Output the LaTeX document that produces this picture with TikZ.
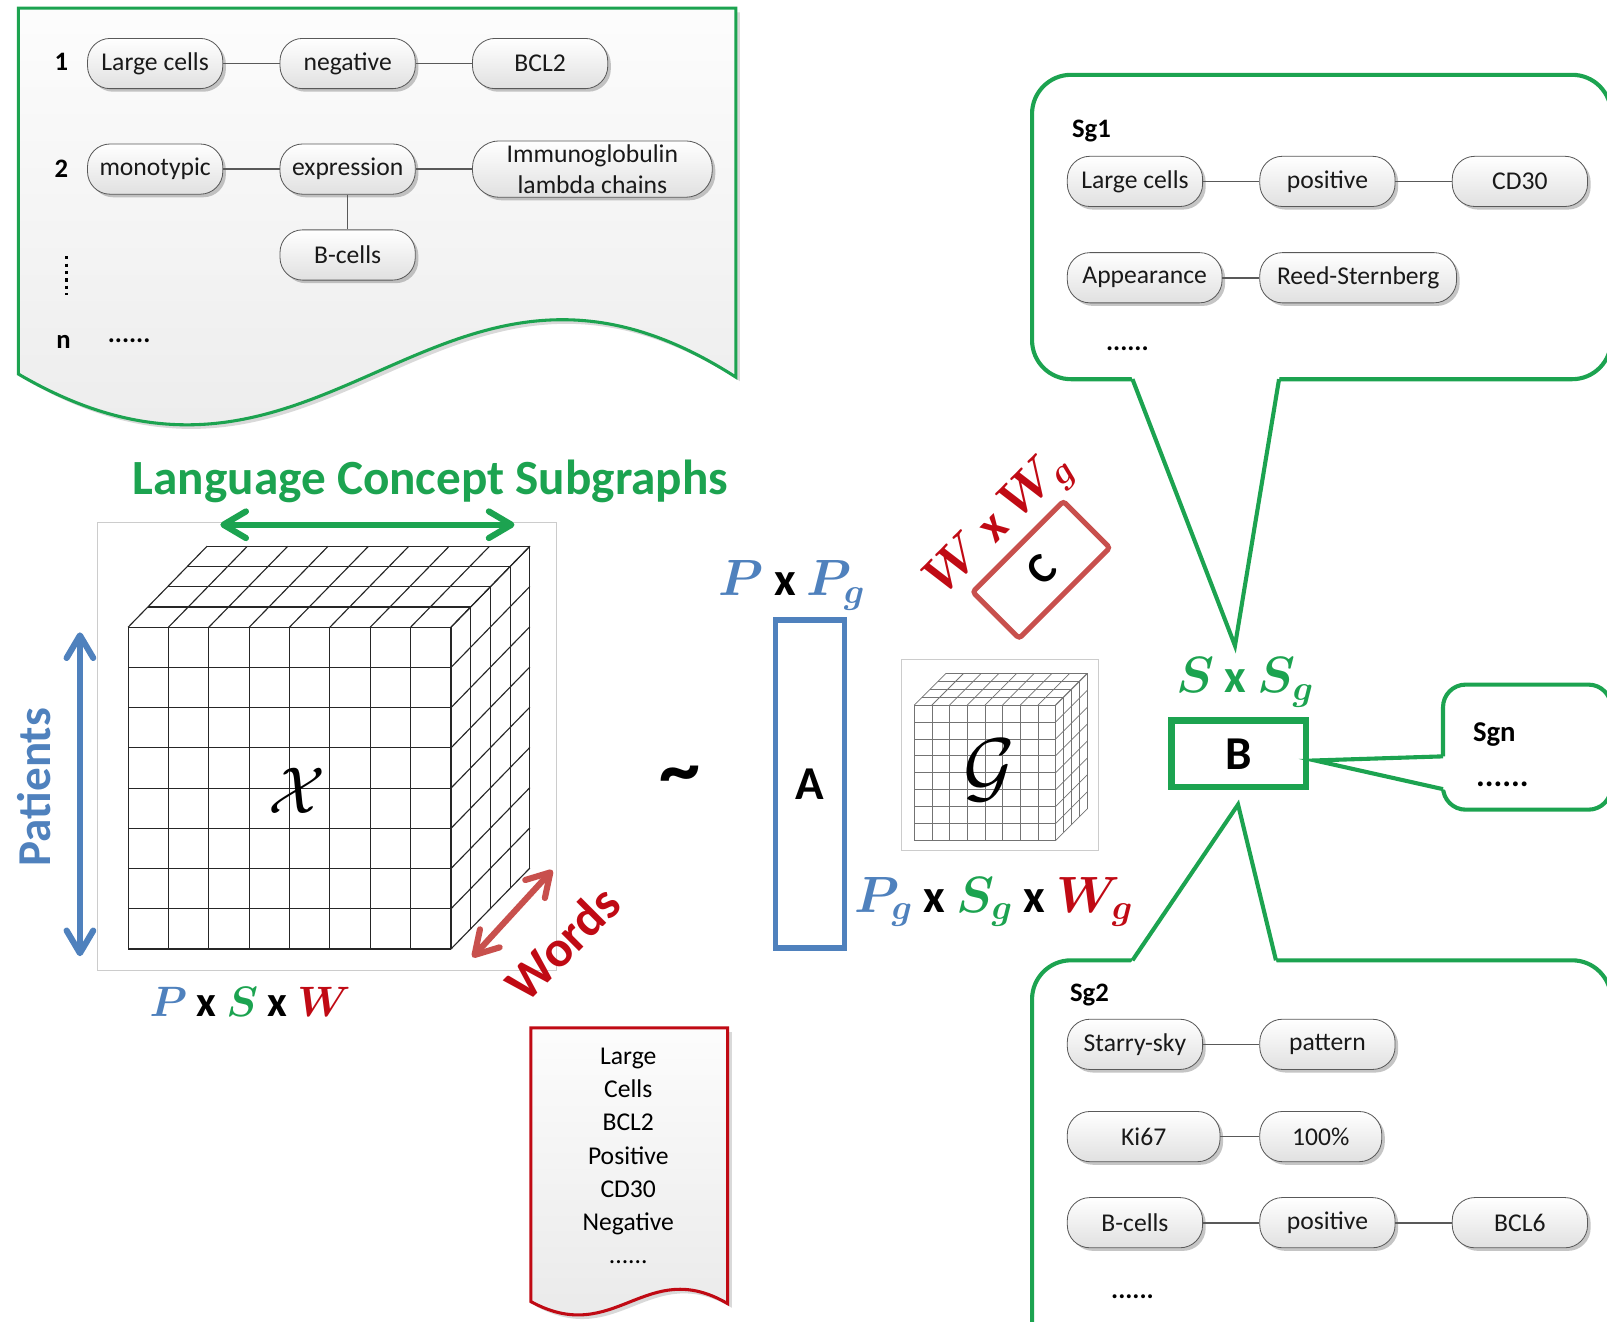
\documentclass[tikz,border=0pt]{standalone}
\usepackage{amsmath,amssymb}
\usepackage{fontspec}
\setmainfont{Carlito}
\usepackage{xcolor}
\usetikzlibrary{positioning,calc,shadows,arrows.meta}

\definecolor{pblue}{RGB}{79,129,189}
\definecolor{pgreen}{RGB}{28,163,80}
\definecolor{pred}{RGB}{192,10,20}
\definecolor{lred}{RGB}{200,80,77}

\tikzset{
  term/.style={draw=black!65, rounded corners=11pt, minimum width=66pt, minimum height=24.5pt,
    inner sep=1pt, top color=white, bottom color=black!12, text=black!90,
    font=\fontsize{12.5}{14}\selectfont,
    drop shadow={shadow xshift=1.5pt, shadow yshift=-1.5pt, fill=black!50, opacity=.45}},
  link/.style={draw=black!65, line width=0.8pt},
  bubble/.style={draw=pgreen, line width=2pt, fill=white},
  pointer/.style={draw=pgreen, line width=2pt, line join=miter},
  gridline/.style={draw=black!85, line width=0.55pt},
  smallgrid/.style={draw=black!55, line width=0.35pt},
  dimlbl/.style={font=\bfseries\fontsize{23}{25}\selectfont, inner sep=0pt},
  matbox/.style={fill=white, font=\bfseries\fontsize{23}{24}\selectfont, inner sep=0pt},
  numlbl/.style={font=\bfseries\fontsize{13}{14}\selectfont},
  dblarrow/.style={{Straight Barb[length=11pt,width=13pt,round]}-{Straight Barb[length=11pt,width=13pt,round]},
    line width=3pt, line cap=round},
}

\begin{document}
\begin{tikzpicture}[x=0.5pt, y=-0.5pt, node distance=27.5pt]
\useasboundingbox (0,0) rectangle (1568,1289);

% Sentence graphs document
\draw[pgreen, line width=1.5pt, top color=black!1, bottom color=black!9,
  drop shadow={shadow xshift=2pt, shadow yshift=-2pt, opacity=.3}]
  (18,8) -- (718,8) -- (718,368) .. controls (426,180) and (317,540) .. (18,365) -- cycle;

\node[numlbl] (num1) at (60,60) {1};
\node[term, anchor=west] (r1a) at (85,62) {Large cells};
\node[term, right=of r1a] (r1b) {negative};
\node[term, right=of r1b] (r1c) {BCL2};
\draw[link] (r1a) -- (r1b);
\draw[link] (r1b) -- (r1c);

\node[numlbl] (num2) at (60,165) {2};
\node[term, anchor=west] (r2a) at (85,165) {monotypic};
\node[term, right=of r2a] (r2b) {expression};
\node[term, right=of r2b, align=center, minimum width=117pt, minimum height=27.5pt, rounded corners=13pt,
  font=\fontsize{12.5}{15.5}\selectfont] (r2c) {Immunoglobulin\\lambda chains};
\node[term, below=17pt of r2b] (r2d) {B-cells};
\draw[link] (r2a) -- (r2b);
\draw[link] (r2b) -- (r2c);
\draw[link] (r2b) -- (r2d);

\coordinate (vdotsT) at (65,250);
\coordinate (vdotsB) at (65,288);
\draw[dotted, line width=1.6pt] (vdotsT) -- (vdotsB);
\node[numlbl] (numn) at (62,334) {n};
\node[numlbl] (dotsn) at (126,332) {......};

% Tensor X
\draw[black!20] (95,510) rectangle (543,947);
\fill[white] (125,612) -- (202,533) -- (517,533) -- (517,847) -- (440,926) -- (125,926) -- cycle;
\foreach \i in {0,...,8} {
  \draw[gridline] ({125+\i*39.375},612) -- ++(0,314);
  \draw[gridline] (125,{612+\i*39.25}) -- ++(315,0);
  \draw[gridline] ({125+\i*39.375},612) -- ++(77,-79);
  \draw[gridline] (440,{612+\i*39.25}) -- ++(77,-79);
}
\foreach \k in {1,...,4} {
  \draw[gridline] ({125+\k*19.25},{612-\k*19.75}) -- ++(315,0);
  \draw[gridline] ({440+\k*19.25},{612-\k*19.75}) -- ++(0,314);
}
\node[font=\fontsize{24.88}{26}\selectfont] (tensorX) at (290,772) {\scalebox{1.3}{$\mathcal{X}$}};

\node[text=pgreen, font=\bfseries\fontsize{24}{26}\selectfont] (lcs) at (420,470) {Language Concept Subgraphs};
\coordinate (lcsL) at (215,512);
\coordinate (lcsR) at (502,512);
\draw[dblarrow, pgreen] (lcsL) -- (lcsR);

\node[rotate=90, text=pblue, font=\bfseries\fontsize{23}{24}\selectfont] (patients) at (33,768) {Patients};
\coordinate (patT) at (78,617);
\coordinate (patB) at (78,933);
\draw[dblarrow, pblue] (patT) -- (patB);

\node[rotate=45, text=pred, font=\bfseries\fontsize{25}{26}\selectfont] (words) at (549,920) {Words};
\coordinate (wrdL) at (461,934);
\coordinate (wrdR) at (539,849);
\draw[dblarrow, lred] (wrdL) -- (wrdR);

\node[dimlbl, font=\bfseries\fontsize{21}{23}\selectfont] (dimX) at (244,978) {\textcolor{pblue}{$\boldsymbol{P}$} x \textcolor{pgreen}{$\boldsymbol{S}$} x \textcolor{pred}{$\boldsymbol{W}$}};

\node[font=\bfseries\fontsize{40}{40}\selectfont] (approx) at (663,762) {\textasciitilde};

% Factor A
\node[matbox, draw=pblue, line width=2.5pt, minimum width=33.5pt, minimum height=160pt] (matA) at (790.5,765) {A};
\node[dimlbl] (dimA) at (773,571) {\textcolor{pblue}{$\boldsymbol{P}$} x \textcolor{pblue}{$\boldsymbol{P_g}$}};

% Factor C
\node[matbox, draw=lred, line width=2.5pt, rounded corners=1.5pt, rotate=45, minimum width=62.5pt,
  minimum height=32pt, font=\bfseries\fontsize{21}{22}\selectfont] (matC) at (1016,556) {C};
\node[dimlbl, text=pred, rotate=45] (dimC) at (976,512) {$\boldsymbol{W}$ x $\boldsymbol{W_g}$};

% Core tensor G
\draw[black!20] (880,643) rectangle (1072,830);
\fill[white] (892,688) -- (923,657) -- (1061,657) -- (1061,789) -- (1030,820) -- (892,820) -- cycle;
\foreach \i in {0,...,8} {
  \draw[smallgrid] ({892+\i*17.25},688) -- ++(0,132);
  \draw[smallgrid] (892,{688+\i*16.5}) -- ++(138,0);
  \draw[smallgrid] ({892+\i*17.25},688) -- ++(31,-31);
  \draw[smallgrid] (1030,{688+\i*16.5}) -- ++(31,-31);
}
\foreach \k in {1,...,4} {
  \draw[smallgrid] ({892+\k*7.75},{688-\k*7.75}) -- ++(138,0);
  \draw[smallgrid] ({1030+\k*7.75},{688-\k*7.75}) -- ++(0,132);
}
\node[font=\fontsize{24.88}{26}\selectfont] (coreG) at (965,752) {\scalebox{1.55}{$\mathcal{G}$}};
\node[dimlbl] (dimG) at (970,880) {\textcolor{pblue}{$\boldsymbol{P_g}$} x \textcolor{pgreen}{$\boldsymbol{S_g}$} x \textcolor{pred}{$\boldsymbol{W_g}$}};

% Factor B
\node[matbox, draw=pgreen, line width=3pt, minimum width=65.5pt, minimum height=32.5pt] (matB) at (1208.5,735.5) {B};
\node[dimlbl, text=pgreen] (dimB) at (1215,666) {$\boldsymbol{S}$ x $\boldsymbol{S_g}$};

% Subgraph Sg1
\draw[bubble, rounded corners=19pt] (1007,73) rectangle (1572,370);
\fill[white] (1103.5,366) -- (1205,630) -- (1248.7,366) -- cycle;
\draw[pointer] (1105,370) -- (1205,630) -- (1248,370);
\node[numlbl] (sg1) at (1065,128) {Sg1};
\node[term, anchor=west] (s1a) at (1041,177) {Large cells};
\node[term, right=of s1a] (s1b) {positive};
\node[term, right=of s1b] (s1c) {CD30};
\node[term, anchor=west, minimum width=75.5pt] (s1d) at (1041,271) {Appearance};
\node[term, right=18pt of s1d, minimum width=96pt] (s1e) {Reed-Sternberg};
\draw[link] (s1a) -- (s1b);
\draw[link] (s1b) -- (s1c);
\draw[link] (s1d) -- (s1e);
\node[numlbl] (dots1) at (1100,340) {......};

% Subgraph Sgn
\draw[bubble, rounded corners=11pt] (1408,668) rectangle (1572,790);
\fill[white] (1412,737.9) -- (1283,742) -- (1412,771) -- cycle;
\draw[pointer] (1408,738) -- (1283,742) -- (1408,770);
\node[font=\bfseries\fontsize{14}{15}\selectfont] (sgn) at (1458,717) {Sgn};
\node[font=\bfseries\fontsize{16}{17}\selectfont] (dotsgn) at (1466,765) {......};

% Subgraph Sg2
\draw[bubble, rounded corners=19pt] (1007,937) rectangle (1572,1330);
\fill[white] (1102.3,941) -- (1208,785) -- (1246,941) -- cycle;
\draw[pointer] (1105,937) -- (1208,785) -- (1245,937);
\node[numlbl] (sg2) at (1063,971) {Sg2};
\node[term, anchor=west] (s2a) at (1041,1019) {Starry-sky};
\node[term, right=of s2a] (s2b) {pattern};
\node[term, anchor=west, minimum width=74.5pt] (s2c) at (1041,1109) {Ki67};
\node[term, right=19pt of s2c, minimum width=59.5pt] (s2d) {100\%};
\node[term, anchor=west] (s2e) at (1041,1193) {B-cells};
\node[term, right=of s2e] (s2f) {positive};
\node[term, right=of s2f] (s2g) {BCL6};
\draw[link] (s2a) -- (s2b);
\draw[link] (s2c) -- (s2d);
\draw[link] (s2e) -- (s2f);
\draw[link] (s2f) -- (s2g);
\node[numlbl] (dots2) at (1105,1265) {......};

% Words document
\draw[pred, line width=1.5pt, top color=black!1, bottom color=black!9,
  drop shadow={shadow xshift=2pt, shadow yshift=-2pt, opacity=.3}]
  (518,1003) -- (710,1003) -- (710,1272) .. controls (630,1225) and (600,1315) .. (518,1270) -- cycle;
\node[align=center, font=\fontsize{12.5}{16.2}\selectfont] (wordlist) at (613,1128)
  {Large\\Cells\\BCL2\\Positive\\CD30\\Negative\\......};
\end{tikzpicture}
\end{document}
